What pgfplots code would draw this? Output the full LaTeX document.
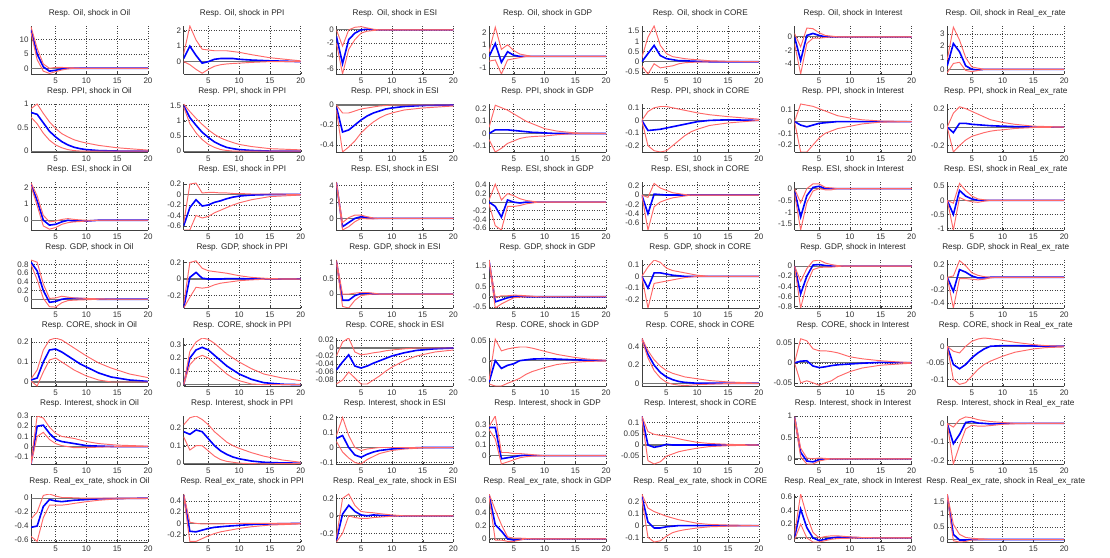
\documentclass[border=0pt]{standalone}
\usepackage{fontspec}
\setmainfont{Liberation Sans}
\usepackage{pgfplots}
\pgfplotsset{compat=1.18}
\definecolor{irfblue}{RGB}{0,0,255}
\definecolor{irfred}{RGB}{255,105,105}
\pgfplotsset{
  irf/.style={
    scale only axis, width=117pt, height=48pt,
    xmin=1, xmax=20, xtick={5,10,15,20}, enlargelimits=false,
    axis x line*=bottom, axis y line*=left,
    grid=major, major grid style={black!75, line width=0.5pt, dash pattern=on 0.8pt off 1.7pt},
    tick align=inside, major tick length=2pt,
    scaled y ticks=false,
    /pgf/number format/assume math mode=true,
    /pgf/number format/fixed, /pgf/number format/precision=3,
    tick label style={font=\fontsize{8}{8}\selectfont, text=black!80},
    yticklabel style={xshift=1pt, /pgf/number format/fixed, /pgf/number format/precision=3},
    title style={font=\fontsize{8.2}{9}\selectfont, text=black!85, yshift=-1pt},
    axis line style={black!75, line width=0.6pt},
    tick style={black!75},
  }
}
\newcommand{\irf}[8]{%
\begin{axis}[irf, at={({31pt+152.7pt*#1},{483pt-78pt*#2})}, anchor=south west,
  title={Resp. #3, shock in #4}, ymin=#5, ymax=#6, ytick={#7}]
\addplot[black!55, line width=1.1pt] coordinates {(1,0) (20,0)};
\addplot[irfblue, line width=1.6pt] table[x=x, y=b, row sep=\\] {#8};
\addplot[irfred, line width=0.95pt] table[x=x, y=l, row sep=\\] {#8};
\addplot[irfred, line width=0.95pt] table[x=x, y=h, row sep=\\] {#8};
\end{axis}}
\begin{document}
\begin{tikzpicture}
\useasboundingbox (0,0) rectangle (1110pt,557pt);
% ---------------- Row 1: Oil
\irf{0}{0}{Oil}{Oil}{-2}{14.8}{0,5,10}{x b l h\\ 1 13.5 12.5 14.5\\ 2 5 3 7\\ 3 0.5 -1 1.5\\ 4 -1 -1.8 0\\ 5 -0.7 -1.2 0.3\\ 6 -0.2 -0.6 0.3\\ 7 0 -0.2 0.2\\ 8 0 0 0.1\\ 9 0 0 0\\ 20 0 0 0\\}
\irf{1}{0}{Oil}{PPI}{-0.8}{2.3}{0,1,2}{x b l h\\ 1 0.2 0 0.5\\ 2 1.0 -0.2 2.3\\ 3 0.4 -0.5 1.4\\ 4 -0.1 -0.75 0.8\\ 5 0 -0.5 0.75\\ 6 0.15 -0.3 0.7\\ 7 0.2 -0.2 0.7\\ 8 0.2 -0.15 0.7\\ 9 0.2 -0.12 0.65\\ 10 0.15 -0.1 0.6\\ 12 0.1 -0.05 0.45\\ 15 0.05 0 0.25\\ 20 0 0 0.05\\}
\irf{2}{0}{Oil}{ESI}{-6.8}{0.6}{-6,-4,-2,0}{x b l h\\ 1 -1 -2 0\\ 2 -5.2 -6.8 -2.5\\ 3 -1.5 -3 0\\ 4 -0.5 -1.5 0.4\\ 5 0 -0.5 0.5\\ 6 0.1 -0.2 0.3\\ 7 0 -0.1 0.1\\ 8 0 0 0\\ 20 0 0 0\\}
\irf{3}{0}{Oil}{GDP}{-1.5}{2.6}{-1,0,1,2}{x b l h\\ 1 0 -0.4 0.4\\ 2 1.1 -0.3 2.5\\ 3 -0.5 -1.5 0.6\\ 4 0.4 -0.3 1.0\\ 5 0.1 -0.2 0.5\\ 6 0 -0.1 0.2\\ 7 0 0 0.1\\ 8 0 0 0\\ 20 0 0 0\\}
\irf{4}{0}{Oil}{CORE}{-0.6}{1.75}{-0.5,0,0.5,1,1.5}{x b l h\\ 1 0 -0.2 0.2\\ 2 0.4 -0.6 1.2\\ 3 0.8 -0.1 1.75\\ 4 0.3 -0.3 0.8\\ 5 0.15 -0.25 0.4\\ 6 0.1 -0.2 0.25\\ 7 0.05 -0.1 0.2\\ 8 0.05 -0.05 0.15\\ 9 0.03 -0.03 0.12\\ 10 0.02 -0.02 0.1\\ 12 0 0 0.05\\ 15 0 0 0.02\\ 20 0 0 0\\}
\irf{5}{0}{Oil}{Interest}{-5.5}{1.6}{-4,-2,0}{x b l h\\ 1 0 -1 0.5\\ 2 -3.5 -5.5 -1.5\\ 3 0.2 -1 1.3\\ 4 0.5 -0.2 1.2\\ 5 0.2 -0.2 0.6\\ 6 0 -0.1 0.2\\ 7 0 0 0.1\\ 8 0 0 0\\ 20 0 0 0\\}
\irf{6}{0}{Oil}{Real\_ex\_rate}{-0.4}{3.7}{0,1,2,3}{x b l h\\ 1 0.3 -0.3 0.8\\ 2 2.2 0.5 3.6\\ 3 1.5 0.6 2.5\\ 4 0.3 -0.1 1.0\\ 5 0 -0.2 0.2\\ 6 -0.05 -0.1 0.1\\ 7 0 0 0\\ 20 0 0 0\\}
% ---------------- Row 2: PPI
\irf{0}{1}{PPI}{Oil}{-0.02}{1.0}{0,0.5,1}{x b l h\\ 1 0.82 0.72 0.9\\ 2 0.78 0.58 1.0\\ 3 0.6 0.38 0.8\\ 4 0.42 0.23 0.62\\ 5 0.3 0.13 0.48\\ 6 0.2 0.07 0.37\\ 7 0.13 0.03 0.3\\ 8 0.08 0.01 0.24\\ 9 0.05 0 0.2\\ 10 0.03 0 0.17\\ 12 0.01 0 0.12\\ 15 0 0 0.07\\ 20 0 0 0.02\\}
\irf{1}{1}{PPI}{PPI}{-0.03}{1.55}{0,0.5,1,1.5}{x b l h\\ 1 1.5 1.45 1.55\\ 2 1.1 0.9 1.3\\ 3 0.85 0.6 1.08\\ 4 0.62 0.38 0.88\\ 5 0.45 0.22 0.7\\ 6 0.3 0.12 0.55\\ 7 0.2 0.05 0.43\\ 8 0.12 0.02 0.35\\ 9 0.08 0 0.28\\ 10 0.05 0 0.22\\ 12 0.02 0 0.15\\ 15 0 0 0.08\\ 20 0 0 0.04\\}
\irf{2}{1}{PPI}{ESI}{-0.47}{0.01}{-0.4,-0.2,0}{x b l h\\ 1 -0.02 -0.05 0\\ 2 -0.27 -0.47 -0.08\\ 3 -0.25 -0.42 -0.08\\ 4 -0.2 -0.36 -0.06\\ 5 -0.15 -0.28 -0.04\\ 6 -0.11 -0.22 -0.03\\ 7 -0.08 -0.17 -0.02\\ 8 -0.06 -0.13 -0.01\\ 9 -0.04 -0.1 -0.005\\ 10 -0.03 -0.08 0\\ 12 -0.015 -0.05 0\\ 15 -0.005 -0.03 0\\ 20 0 -0.01 0\\}
\irf{3}{1}{PPI}{GDP}{-0.15}{0.24}{-0.1,0,0.1,0.2}{x b l h\\ 1 0 -0.05 0.05\\ 2 0.03 -0.15 0.23\\ 3 0.03 -0.12 0.21\\ 4 0.03 -0.08 0.19\\ 5 0.025 -0.06 0.16\\ 6 0.02 -0.04 0.13\\ 7 0.015 -0.03 0.1\\ 8 0.01 -0.025 0.08\\ 9 0.008 -0.022 0.06\\ 10 0.005 -0.02 0.04\\ 12 0 -0.01 0.02\\ 15 0 0 0.005\\ 20 0 0 0\\}
\irf{4}{1}{PPI}{CORE}{-0.25}{0.13}{-0.2,-0.1,0,0.1}{x b l h\\ 1 0 0 0\\ 2 -0.08 -0.2 0.07\\ 3 -0.075 -0.24 0.1\\ 4 -0.07 -0.25 0.11\\ 5 -0.06 -0.24 0.11\\ 6 -0.05 -0.2 0.1\\ 7 -0.04 -0.16 0.09\\ 8 -0.03 -0.12 0.08\\ 9 -0.02 -0.09 0.07\\ 10 -0.01 -0.07 0.06\\ 12 0 -0.04 0.045\\ 15 0.005 -0.02 0.03\\ 20 0 0 0.01\\}
\irf{5}{1}{PPI}{Interest}{-0.26}{0.15}{-0.2,-0.1,0,0.1}{x b l h\\ 1 0 0 0\\ 2 -0.03 -0.26 0.15\\ 3 -0.045 -0.26 0.14\\ 4 -0.03 -0.2 0.13\\ 5 -0.015 -0.14 0.11\\ 6 -0.01 -0.1 0.09\\ 7 -0.005 -0.08 0.07\\ 8 0 -0.06 0.05\\ 9 0 -0.05 0.04\\ 10 0 -0.04 0.03\\ 12 0 -0.02 0.015\\ 15 0 -0.005 0.005\\ 20 0 0 0\\}
\irf{6}{1}{PPI}{Real\_ex\_rate}{-0.27}{0.25}{-0.2,0,0.2}{x b l h\\ 1 0 0 0\\ 2 -0.06 -0.27 0.15\\ 3 0.04 -0.2 0.22\\ 4 0.04 -0.14 0.2\\ 5 0.03 -0.1 0.17\\ 6 0.025 -0.08 0.14\\ 7 0.02 -0.06 0.11\\ 8 0.015 -0.045 0.08\\ 9 0.012 -0.035 0.065\\ 10 0.01 -0.03 0.05\\ 12 0.005 -0.015 0.03\\ 15 0 -0.005 0.01\\ 20 0 0 0\\}
% ---------------- Row 3: ESI
\irf{0}{2}{ESI}{Oil}{-0.6}{2.35}{0,1,2}{x b l h\\ 1 2.2 2.1 2.3\\ 2 1.2 0.9 1.5\\ 3 0 -0.35 0.3\\ 4 -0.3 -0.55 -0.1\\ 5 -0.25 -0.45 -0.05\\ 6 -0.1 -0.25 0.05\\ 7 0 -0.15 0.1\\ 8 -0.05 -0.1 0.05\\ 9 -0.05 -0.08 0.02\\ 10 -0.05 -0.05 0\\ 12 0 0 0\\ 20 0 0 0\\}
\irf{1}{2}{ESI}{PPI}{-0.68}{0.24}{-0.6,-0.4,-0.2,0,0.2}{x b l h\\ 1 -0.6 -0.68 -0.55\\ 2 -0.25 -0.68 0.2\\ 3 -0.1 -0.4 0.22\\ 4 -0.22 -0.45 0.03\\ 5 -0.2 -0.42 0.04\\ 6 -0.15 -0.35 0.04\\ 7 -0.12 -0.3 0.03\\ 8 -0.08 -0.25 0.03\\ 9 -0.05 -0.2 0.02\\ 10 -0.03 -0.16 0.02\\ 12 -0.01 -0.1 0.01\\ 15 0 -0.04 0.01\\ 20 0 -0.01 0\\}
\irf{2}{2}{ESI}{ESI}{-1.4}{4.4}{0,2,4}{x b l h\\ 1 4.3 4.2 4.4\\ 2 -1.0 -1.4 -0.5\\ 3 -0.5 -1.0 0.1\\ 4 0 -0.4 0.4\\ 5 0.2 0 0.4\\ 6 0.1 -0.05 0.2\\ 7 0 -0.05 0.05\\ 8 0 0 0\\ 20 0 0 0\\}
\irf{3}{2}{ESI}{GDP}{-0.65}{0.47}{-0.6,-0.4,-0.2,0,0.2,0.4}{x b l h\\ 1 0 -0.05 0.05\\ 2 -0.1 -0.55 0.42\\ 3 -0.35 -0.65 0.05\\ 4 0.05 -0.1 0.2\\ 5 0 -0.1 0.15\\ 6 -0.02 -0.08 0.08\\ 7 0 -0.04 0.04\\ 8 0 -0.02 0.02\\ 9 0 0 0\\ 20 0 0 0\\}
\irf{4}{2}{ESI}{CORE}{-0.75}{0.28}{-0.6,-0.4,-0.2,0,0.2}{x b l h\\ 1 0 0 0\\ 2 -0.4 -0.75 -0.05\\ 3 0.02 -0.25 0.25\\ 4 0.01 -0.15 0.15\\ 5 0 -0.1 0.1\\ 6 0 -0.06 0.05\\ 7 0 -0.04 0.03\\ 8 0 -0.02 0.01\\ 9 0 0 0\\ 20 0 0 0\\}
\irf{5}{2}{ESI}{Interest}{-1.75}{0.28}{-1.5,-1,-0.5,0}{x b l h\\ 1 -0.1 -0.2 0\\ 2 -1.2 -1.75 -0.6\\ 3 -0.3 -0.6 0\\ 4 0.05 -0.1 0.2\\ 5 0.1 0 0.2\\ 6 0 -0.05 0.05\\ 7 0 -0.05 0.03\\ 8 0 0 0\\ 20 0 0 0\\}
\irf{6}{2}{ESI}{Real\_ex\_rate}{-1.05}{0.65}{-1,-0.5,0,0.5}{x b l h\\ 1 0 0 0\\ 2 -0.5 -1.05 -0.1\\ 3 0.35 0.1 0.6\\ 4 0.15 0 0.35\\ 5 0.05 -0.05 0.15\\ 6 0 -0.07 0.05\\ 7 0 -0.03 0.02\\ 8 0 0 0\\ 20 0 0 0\\}
% ---------------- Row 4: GDP
\irf{0}{3}{GDP}{Oil}{-0.2}{0.9}{0,0.2,0.4,0.6,0.8}{x b l h\\ 1 0.85 0.8 0.9\\ 2 0.65 0.45 0.85\\ 3 0.2 0.02 0.35\\ 4 -0.07 -0.17 0.02\\ 5 -0.05 -0.18 0.03\\ 6 0 -0.08 0.07\\ 7 0.02 -0.03 0.05\\ 8 0.02 -0.02 0.03\\ 9 0.015 -0.015 0.025\\ 10 0.01 -0.01 0.02\\ 12 0 0 0.01\\ 15 0 0 0\\ 20 0 0 0\\}
\irf{1}{3}{GDP}{PPI}{-0.35}{0.23}{-0.2,0,0.2}{x b l h\\ 1 -0.35 -0.35 -0.3\\ 2 0.02 -0.22 0.2\\ 3 0.08 -0.1 0.22\\ 4 0.01 -0.11 0.13\\ 5 0 -0.1 0.1\\ 6 0 -0.07 0.09\\ 7 0 -0.05 0.08\\ 8 0.005 -0.04 0.07\\ 9 0.005 -0.03 0.055\\ 10 0.005 -0.02 0.04\\ 12 0 -0.01 0.02\\ 15 0 0 0.005\\ 20 0 0 0\\}
\irf{2}{3}{GDP}{ESI}{-0.45}{1.1}{0,0.5,1}{x b l h\\ 1 1.05 1.0 1.1\\ 2 -0.2 -0.4 0\\ 3 -0.2 -0.45 0\\ 4 -0.05 -0.2 0.03\\ 5 0.02 -0.05 0.05\\ 6 0.02 -0.02 0.05\\ 7 0 0 0.03\\ 8 0 0 0\\ 20 0 0 0\\}
\irf{3}{3}{GDP}{GDP}{-0.55}{1.8}{-0.5,0,0.5,1,1.5}{x b l h\\ 1 1.75 1.7 1.8\\ 2 -0.25 -0.55 -0.05\\ 3 -0.15 -0.35 0.05\\ 4 -0.05 -0.2 0.05\\ 5 0.02 -0.05 0.08\\ 6 0.03 -0.02 0.07\\ 7 0 0 0.05\\ 8 0 0 0.03\\ 9 0 0 0\\ 20 0 0 0\\}
\irf{4}{3}{GDP}{CORE}{-0.27}{0.14}{-0.2,-0.1,0,0.1}{x b l h\\ 1 0 0 0\\ 2 -0.1 -0.27 0.08\\ 3 0.03 -0.06 0.14\\ 4 0.03 -0.05 0.12\\ 5 0.02 -0.04 0.07\\ 6 0.01 -0.03 0.05\\ 7 0.005 -0.02 0.04\\ 8 0 -0.01 0.03\\ 9 0 -0.005 0.02\\ 10 0 0 0.01\\ 12 0 0 0\\ 20 0 0 0\\}
\irf{5}{3}{GDP}{Interest}{-0.83}{0.12}{-0.8,-0.6,-0.4,-0.2,0}{x b l h\\ 1 0 0 0\\ 2 -0.55 -0.83 -0.3\\ 3 -0.2 -0.35 -0.05\\ 4 0.02 -0.07 0.1\\ 5 0.03 -0.03 0.12\\ 6 0.01 -0.02 0.06\\ 7 0 -0.02 0.03\\ 8 0 -0.01 0.01\\ 9 0 0 0\\ 20 0 0 0\\}
\irf{6}{3}{GDP}{Real\_ex\_rate}{-0.48}{0.27}{-0.4,-0.2,0,0.2}{x b l h\\ 1 0 0 0\\ 2 -0.22 -0.48 0.02\\ 3 0.12 -0.02 0.26\\ 4 0.08 -0.02 0.18\\ 5 0.02 -0.03 0.07\\ 6 -0.01 -0.04 0.03\\ 7 -0.01 -0.03 0.01\\ 8 0 -0.01 0\\ 9 0 0 0\\ 20 0 0 0\\}
% ---------------- Row 5: CORE
\irf{0}{4}{CORE}{Oil}{-0.02}{0.22}{0,0.1,0.2}{x b l h\\ 1 0.01 0.005 0.015\\ 2 0.02 -0.02 0.06\\ 3 0.1 0.05 0.16\\ 4 0.16 0.11 0.21\\ 5 0.165 0.12 0.22\\ 6 0.15 0.1 0.21\\ 7 0.13 0.08 0.19\\ 8 0.11 0.06 0.17\\ 9 0.09 0.045 0.15\\ 10 0.075 0.03 0.13\\ 12 0.045 0.01 0.095\\ 14 0.025 0 0.07\\ 17 0.01 0 0.04\\ 20 0.003 0 0.022\\}
\irf{1}{4}{CORE}{PPI}{-0.01}{0.35}{0,0.1,0.2,0.3}{x b l h\\ 1 0 0 0\\ 2 0.2 0.15 0.25\\ 3 0.26 0.2 0.32\\ 4 0.28 0.22 0.35\\ 5 0.26 0.2 0.34\\ 6 0.22 0.16 0.31\\ 7 0.18 0.12 0.27\\ 8 0.14 0.08 0.23\\ 9 0.11 0.05 0.2\\ 10 0.08 0.03 0.17\\ 12 0.04 0.005 0.12\\ 14 0.015 0 0.08\\ 17 0.003 0 0.05\\ 20 0 0 0.03\\}
\irf{2}{4}{CORE}{ESI}{-0.095}{0.025}{-0.08,-0.06,-0.04,-0.02,0,0.02}{x b l h\\ 1 -0.055 -0.09 -0.02\\ 2 -0.035 -0.08 0.015\\ 3 -0.017 -0.06 0.025\\ 4 -0.045 -0.075 -0.01\\ 5 -0.05 -0.09 -0.017\\ 6 -0.045 -0.09 -0.015\\ 7 -0.038 -0.08 -0.012\\ 8 -0.032 -0.07 -0.01\\ 9 -0.026 -0.058 -0.007\\ 10 -0.02 -0.048 -0.005\\ 12 -0.012 -0.032 -0.002\\ 14 -0.006 -0.02 0\\ 17 -0.002 -0.01 0\\ 20 0 -0.005 0\\}
\irf{3}{4}{CORE}{GDP}{-0.065}{0.058}{-0.05,0,0.05}{x b l h\\ 1 -0.055 -0.06 -0.05\\ 2 0 -0.065 0.055\\ 3 -0.02 -0.065 0.025\\ 4 -0.012 -0.058 0.03\\ 5 -0.008 -0.052 0.033\\ 6 0 -0.045 0.035\\ 7 0.002 -0.035 0.035\\ 8 0.004 -0.028 0.032\\ 10 0.005 -0.018 0.024\\ 12 0.004 -0.01 0.016\\ 15 0.002 -0.004 0.008\\ 17 0.001 -0.002 0.004\\ 20 0 -0.001 0.001\\}
\irf{4}{4}{CORE}{CORE}{-0.03}{0.5}{0,0.2,0.4}{x b l h\\ 1 0.49 0.48 0.5\\ 2 0.32 0.28 0.36\\ 3 0.2 0.14 0.26\\ 4 0.12 0.06 0.19\\ 5 0.07 0.01 0.14\\ 6 0.04 -0.01 0.11\\ 7 0.02 -0.02 0.09\\ 8 0.01 -0.025 0.07\\ 9 0.005 -0.02 0.06\\ 10 0 -0.015 0.05\\ 12 0 -0.01 0.03\\ 15 0 -0.003 0.015\\ 20 0 0 0\\}
\irf{5}{4}{CORE}{Interest}{-0.058}{0.062}{-0.05,0,0.05}{x b l h\\ 1 0 0 0\\ 2 0.004 -0.05 0.06\\ 3 0.005 -0.045 0.055\\ 4 -0.008 -0.05 0.035\\ 5 -0.012 -0.056 0.03\\ 6 -0.01 -0.05 0.03\\ 7 -0.007 -0.045 0.028\\ 8 -0.005 -0.035 0.025\\ 10 -0.003 -0.022 0.015\\ 12 -0.001 -0.013 0.01\\ 15 0.001 -0.006 0.005\\ 20 0 -0.001 0\\}
\irf{6}{4}{CORE}{Real\_ex\_rate}{-0.12}{0.025}{-0.1,-0.05,0}{x b l h\\ 1 0 0 0\\ 2 -0.055 -0.1 -0.015\\ 3 -0.068 -0.115 -0.02\\ 4 -0.055 -0.11 0\\ 5 -0.035 -0.09 0.015\\ 6 -0.02 -0.07 0.022\\ 7 -0.008 -0.055 0.025\\ 8 0 -0.045 0.023\\ 10 0.002 -0.03 0.018\\ 12 0.002 -0.018 0.012\\ 15 0.001 -0.008 0.005\\ 17 0 -0.004 0.002\\ 20 0 -0.002 0\\}
% ---------------- Row 6: Interest
\irf{0}{5}{Interest}{Oil}{-0.17}{0.3}{-0.1,0,0.1,0.2,0.3}{x b l h\\ 1 -0.17 -0.17 -0.15\\ 2 0.2 0.1 0.3\\ 3 0.21 0.14 0.28\\ 4 0.13 0.07 0.19\\ 5 0.07 0.03 0.13\\ 6 0.05 0.01 0.1\\ 7 0.04 0 0.09\\ 8 0.03 -0.01 0.08\\ 10 0.01 -0.01 0.05\\ 12 0.005 -0.005 0.03\\ 15 0 0 0.015\\ 20 0 0 0.005\\}
\irf{1}{5}{Interest}{PPI}{-0.005}{0.27}{0,0.1,0.2}{x b l h\\ 1 0.18 0.15 0.22\\ 2 0.165 0.075 0.26\\ 3 0.19 0.1 0.27\\ 4 0.18 0.1 0.25\\ 5 0.14 0.07 0.22\\ 6 0.1 0.04 0.18\\ 7 0.07 0.02 0.15\\ 8 0.05 0.01 0.12\\ 9 0.035 0.005 0.1\\ 10 0.025 0 0.085\\ 12 0.012 -0.003 0.06\\ 14 0.005 -0.004 0.04\\ 17 0.001 -0.003 0.018\\ 20 0 -0.002 0.005\\}
\irf{2}{5}{Interest}{ESI}{-0.11}{0.21}{-0.1,0,0.1,0.2}{x b l h\\ 1 0.06 0.04 0.08\\ 2 0.08 -0.03 0.2\\ 3 0 -0.07 0.08\\ 4 -0.05 -0.1 0\\ 5 -0.065 -0.11 -0.02\\ 6 -0.045 -0.08 -0.01\\ 7 -0.03 -0.06 -0.005\\ 8 -0.02 -0.04 0\\ 10 -0.01 -0.02 0\\ 12 -0.005 -0.01 0\\ 15 0 -0.003 0\\ 20 0 0 0\\}
\irf{3}{5}{Interest}{GDP}{-0.08}{0.38}{0,0.1,0.2,0.3}{x b l h\\ 1 0.27 0.25 0.28\\ 2 0.27 0.16 0.38\\ 3 -0.03 -0.08 0.03\\ 4 -0.02 -0.06 0.03\\ 5 -0.01 -0.04 0.02\\ 6 0 -0.02 0.02\\ 7 0.005 -0.01 0.015\\ 8 0 -0.005 0.01\\ 10 0 0 0\\ 20 0 0 0\\}
\irf{4}{5}{Interest}{CORE}{-0.085}{0.13}{-0.05,0,0.05,0.1}{x b l h\\ 1 0.13 0.12 0.13\\ 2 0 -0.07 0.06\\ 3 -0.01 -0.085 0.048\\ 4 -0.005 -0.075 0.043\\ 5 0.003 -0.05 0.04\\ 6 0 -0.04 0.035\\ 7 0 -0.03 0.028\\ 8 0 -0.024 0.022\\ 10 0 -0.014 0.012\\ 12 0 -0.007 0.007\\ 15 0 -0.003 0.003\\ 20 0 0 0\\}
\irf{5}{5}{Interest}{Interest}{-0.12}{1.0}{0,0.5,1}{x b l h\\ 1 0.98 0.95 1.0\\ 2 0.15 0.05 0.25\\ 3 -0.05 -0.12 0.02\\ 4 -0.07 -0.12 0\\ 5 -0.02 -0.05 0.02\\ 6 0 -0.02 0.01\\ 7 0 0 0\\ 20 0 0 0\\}
\irf{6}{5}{Interest}{Real\_ex\_rate}{-0.22}{0.04}{-0.2,-0.1,0}{x b l h\\ 1 0 0 0\\ 2 -0.11 -0.22 -0.02\\ 3 -0.06 -0.12 0.02\\ 4 0.005 -0.03 0.035\\ 5 0.01 -0.01 0.03\\ 6 0.002 -0.015 0.02\\ 7 0 -0.015 0.015\\ 8 -0.003 -0.012 0.01\\ 10 0 -0.005 0.005\\ 12 0 -0.002 0\\ 15 0 0 0\\ 20 0 0 0\\}
% ---------------- Row 7: Real_ex_rate
\irf{0}{6}{Real\_ex\_rate}{Oil}{-0.63}{0.06}{-0.6,-0.4,-0.2,0}{x b l h\\ 1 -0.42 -0.55 -0.3\\ 2 -0.4 -0.62 -0.2\\ 3 -0.12 -0.28 0.04\\ 4 -0.02 -0.1 0.06\\ 5 -0.04 -0.1 0.03\\ 6 -0.05 -0.1 0.01\\ 7 -0.04 -0.09 0.01\\ 8 -0.03 -0.075 0.005\\ 10 -0.02 -0.05 0\\ 12 -0.01 -0.03 0\\ 15 -0.005 -0.01 0\\ 20 0 -0.005 0\\}
\irf{1}{6}{Real\_ex\_rate}{PPI}{-0.33}{0.52}{-0.2,0,0.2,0.4}{x b l h\\ 1 0.5 0.48 0.52\\ 2 -0.14 -0.32 0.02\\ 3 -0.15 -0.32 0\\ 4 -0.12 -0.27 -0.01\\ 5 -0.09 -0.22 -0.01\\ 6 -0.07 -0.18 -0.01\\ 7 -0.06 -0.15 -0.01\\ 8 -0.05 -0.13 -0.005\\ 10 -0.035 -0.09 0\\ 12 -0.02 -0.06 0\\ 15 -0.01 -0.03 0\\ 20 0 -0.01 0\\}
\irf{2}{6}{Real\_ex\_rate}{ESI}{-0.3}{0.25}{-0.2,0,0.2}{x b l h\\ 1 -0.28 -0.3 -0.25\\ 2 0.02 -0.2 0.2\\ 3 0.12 0 0.25\\ 4 0.05 -0.02 0.12\\ 5 0.01 -0.03 0.05\\ 6 0 -0.03 0.04\\ 7 0.01 -0.02 0.035\\ 8 0.005 -0.015 0.025\\ 10 0 -0.005 0.01\\ 12 0 0 0\\ 20 0 0 0\\}
\irf{3}{6}{Real\_ex\_rate}{GDP}{-0.05}{0.7}{0,0.2,0.4,0.6}{x b l h\\ 1 0.68 0.65 0.7\\ 2 0.22 -0.02 0.45\\ 3 0.12 -0.02 0.22\\ 4 0 -0.04 0.03\\ 5 -0.02 -0.04 0.01\\ 6 -0.01 -0.02 0.01\\ 7 0 0 0.005\\ 8 0 0 0\\ 20 0 0 0\\}
\irf{4}{6}{Real\_ex\_rate}{CORE}{-0.14}{0.27}{-0.1,0,0.1,0.2}{x b l h\\ 1 0.25 0.23 0.27\\ 2 0.03 -0.1 0.15\\ 3 -0.02 -0.14 0.12\\ 4 -0.02 -0.13 0.1\\ 5 -0.01 -0.09 0.08\\ 6 -0.005 -0.06 0.065\\ 7 0 -0.045 0.05\\ 8 0 -0.035 0.04\\ 10 0 -0.02 0.02\\ 12 0 -0.01 0.01\\ 15 0 -0.005 0.005\\ 20 0 0 0\\}
\irf{5}{6}{Real\_ex\_rate}{Interest}{-0.06}{0.64}{0,0.2,0.4,0.6}{x b l h\\ 1 0 -0.03 0.05\\ 2 0.42 0.2 0.64\\ 3 0.15 0 0.32\\ 4 0 -0.06 0.08\\ 5 -0.04 -0.06 0\\ 6 -0.02 -0.04 0.02\\ 7 0 -0.02 0.03\\ 8 0.01 -0.01 0.03\\ 10 0.005 -0.005 0.015\\ 12 0 0 0.005\\ 15 0 0 0\\ 20 0 0 0\\}
\irf{6}{6}{Real\_ex\_rate}{Real\_ex\_rate}{-0.1}{1.8}{0,0.5,1,1.5}{x b l h\\ 1 1.75 1.7 1.8\\ 2 0.2 -0.05 0.6\\ 3 -0.02 -0.1 0.2\\ 4 -0.02 -0.08 0.08\\ 5 0 -0.02 0.05\\ 6 0 -0.01 0.03\\ 7 0 0 0.02\\ 8 0 0 0\\ 20 0 0 0\\}
\end{tikzpicture}
\end{document}
